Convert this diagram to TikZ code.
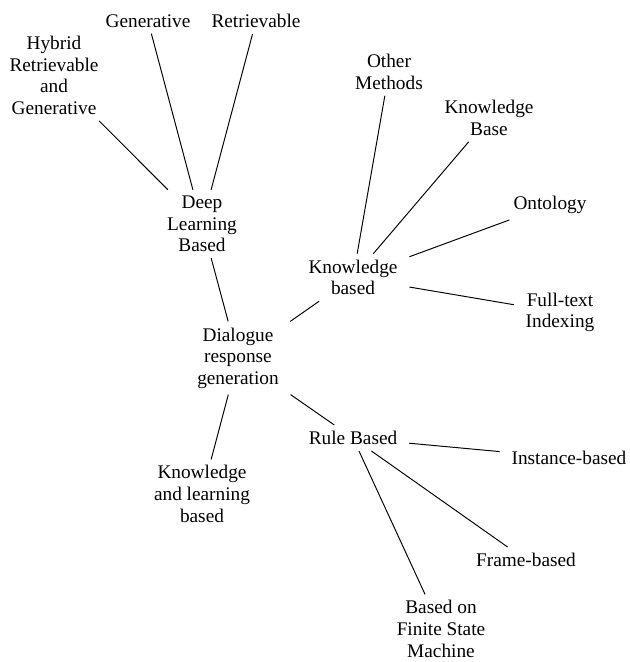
\documentclass[tikz,border=0pt]{standalone}
\usepackage{fontspec}
\setmainfont{Liberation Serif}
\usepackage{tikz}
\usetikzlibrary{positioning}
\tikzset{>=latex}
\tikzset{topic/.style={align=center, inner xsep=6pt, inner ysep=3pt, font=\fontsize{10}{11.2}\selectfont}}
\tikzset{branch/.style={line width=0.5pt}}

\begin{document}
\begin{tikzpicture}[x=0.518pt, y=-0.518pt]
\useasboundingbox (0,0) rectangle (629,662);
% root
\node[topic] (dial) at (238,358) {Dialogue\\response\\generation};
% first level
\node[topic] (deep) at (202,224) {Deep\\Learning\\Based};
\node[topic] (kb) at (353,277.5) {Knowledge\\based};
\node[topic] (rule) at (353,438) {Rule Based};
\node[topic] (kl) at (202,494) {Knowledge\\and learning\\based};
% deep learning
\node[topic] (gen) at (148,21) {Generative};
\node[topic] (retr) at (256,21) {Retrievable};
\node[topic] (hyb) at (54,75.5) {Hybrid\\Retrievable\\and\\Generative};
% knowledge based
\node[topic] (oth) at (389,72) {Other\\Methods};
\node[topic] (kbase) at (489,118) {Knowledge\\Base};
\node[topic] (onto) at (550,205) {Ontology};
\node[topic] (full) at (560,312.5) {Full-text\\Indexing};
% rule based
\node[topic] (inst) at (569,458) {Instance-based};
\node[topic] (frame) at (526,560) {Frame-based};
\node[topic] (fsm) at (441,629) {Based on\\Finite State\\Machine};

\foreach \a/\b in {dial/deep, dial/kb, dial/rule, dial/kl,
  deep/gen, deep/retr, deep/hyb,
  kb/oth, kb/kbase, kb/onto, kb/full,
  rule/inst, rule/frame, rule/fsm}
  \draw[branch] (\a) -- (\b);
\end{tikzpicture}
\end{document}
